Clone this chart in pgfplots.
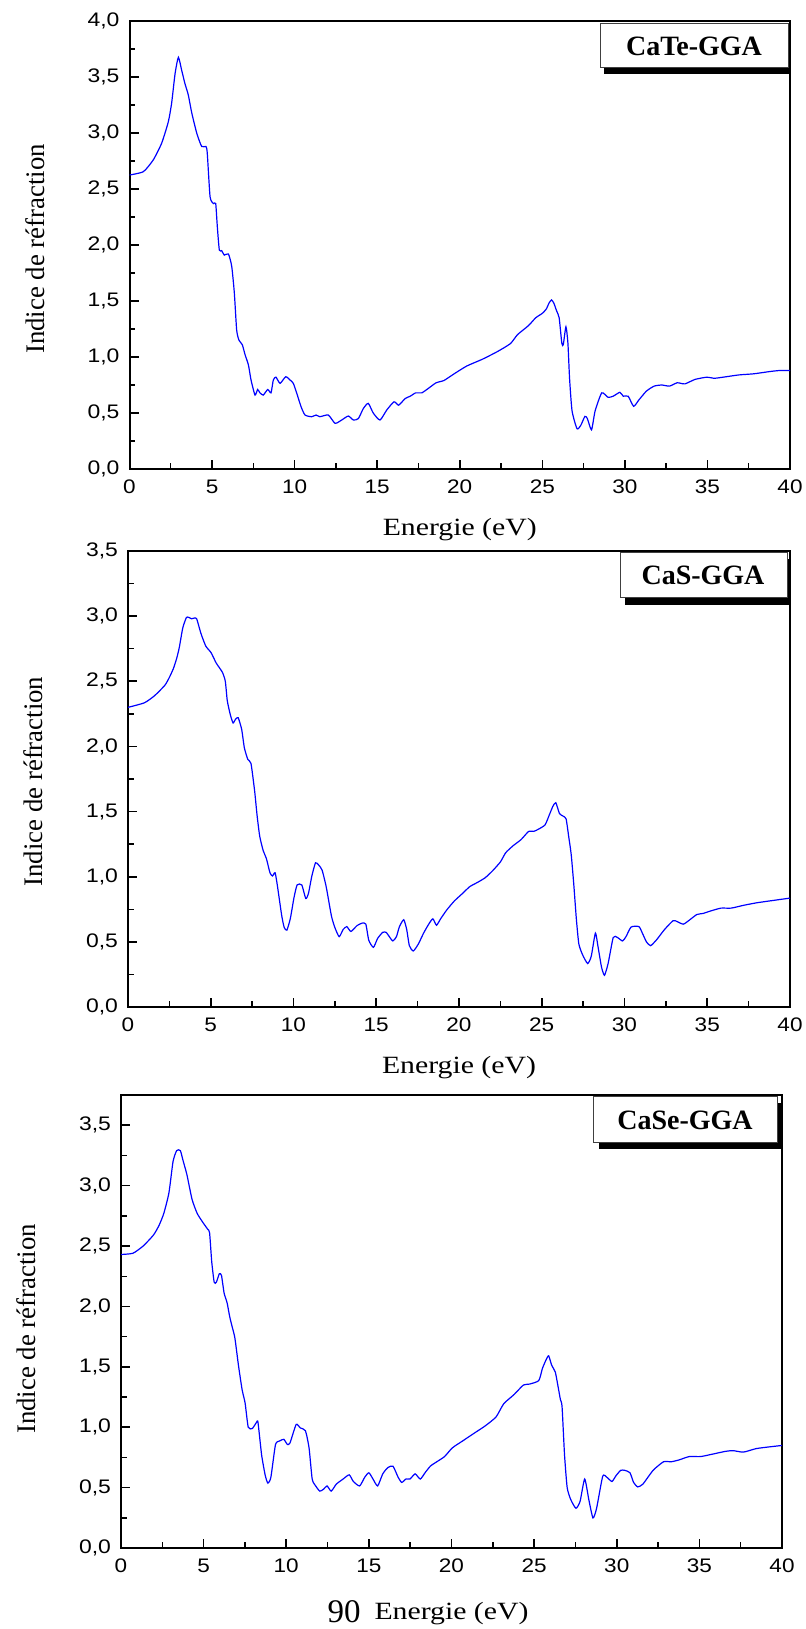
\documentclass[border=0pt]{standalone}
\usepackage{pgfplots}
\pgfplotsset{compat=1.18}
\usepackage{fontspec}
\usepackage{graphicx}
\setmainfont{Liberation Serif}
\newfontfamily\arialf{Liberation Sans}

\pgfplotsset{
  refstyle/.style={
    scale only axis,
    anchor=south west,
    xmin=0, xmax=40, ymin=0,
    xtick={0,5,...,40},
    minor x tick num=1,
    minor y tick num=1,
    tick align=inside,
    xtick pos=left, ytick pos=left,
    axis line style={line width=1pt},
    major tick style={line width=0.8pt, black},
    minor tick style={line width=0.7pt, black},
    major tick length=4.5pt,
    minor tick length=2.8pt,
    /pgf/number format/assume math mode=true,
    tick label style={font=\arialf\fontsize{9.8}{11}\selectfont},
    xticklabel={\scalebox{1.15}[1]{\pgfmathprintnumber{\tick}}},
    yticklabel={\scalebox{1.17}[1]{\pgfmathprintnumber[fixed,fixed zerofill,precision=1,use comma]{\tick}}},
    xticklabel style={yshift=-2pt},
    yticklabel style={xshift=-1.5pt},
    xlabel={\scalebox{1.2}[1]{Energie (eV)}},
    ylabel={Indice de réfraction},
    xlabel style={font=\fontsize{12.4}{14}\selectfont, at={(rel axis cs:0.5,0)}, anchor=base, yshift=-33pt},
    every axis y label/.style={font=\fontsize{13.4}{15}\selectfont, at={(rel axis cs:0,0.5)}, xshift=-42.75pt, yshift=-2pt, rotate=90, anchor=base},
  },
  cur/.style={blue, line width=0.6pt, smooth, tension=0.35, mark=none},
}

\begin{document}
\begin{tikzpicture}
\path[use as bounding box] (0pt,0pt) rectangle (403pt,-814.5pt);

% ---------------- CaTe ----------------
\begin{axis}[refstyle, at={(64.75pt,-234.5pt)}, width=330.25pt, height=224pt,
  ymax=4, ytick={0,0.5,...,4}]
\addplot[cur] coordinates {
(0,2.625)(0.84,2.655)(1.44,2.76)(1.95,2.91)(2.35,3.10)(2.55,3.265)(2.76,3.53)(2.96,3.676)
(3.16,3.56)(3.36,3.44)(3.56,3.34)(3.77,3.18)(4.07,3.0)(4.37,2.88)(4.63,2.88)(4.71,2.82)
(4.88,2.43)(5.08,2.37)(5.22,2.37)(5.32,2.16)(5.44,1.955)(5.58,1.95)(5.74,1.91)(5.99,1.92)
(6.19,1.81)(6.35,1.57)(6.49,1.24)(6.63,1.15)(6.83,1.11)(7.0,1.02)(7.2,0.93)(7.36,0.795)
(7.6,0.66)(7.76,0.71)(7.9,0.68)(8.1,0.66)(8.37,0.71)(8.57,0.68)(8.71,0.795)(8.87,0.82)
(9.12,0.765)(9.46,0.824)(9.72,0.795)(9.92,0.765)(10.13,0.676)(10.39,0.556)(10.63,0.482)
(11.03,0.467)(11.3,0.482)(11.53,0.467)(12.04,0.482)(12.45,0.408)(12.85,0.4375)(13.25,0.473)
(13.56,0.4375)(13.86,0.45)(14.16,0.54)(14.46,0.586)(14.76,0.5)(15.17,0.4375)(15.58,0.527)
(16.02,0.6)(16.3,0.57)(16.7,0.63)(17.0,0.65)
(17.33,0.68)(17.7,0.68)(18.1,0.72)(18.57,0.77)(19.04,0.79)(19.66,0.85)(20.43,0.92)
(21.37,0.98)(22.3,1.05)(23.07,1.12)(23.5,1.20)(24.16,1.28)(24.6,1.35)(25.0,1.39)
(25.25,1.43)(25.4,1.48)(25.56,1.51)(25.7,1.48)(25.87,1.41)(26.02,1.35)(26.18,1.125)
(26.27,1.11)(26.43,1.27)(26.55,1.125)(26.65,0.81)(26.8,0.52)(27.1,0.36)(27.33,0.39)
(27.58,0.47)(27.73,0.45)(27.98,0.35)(28.2,0.52)(28.6,0.68)(28.98,0.64)(29.29,0.65)
(29.7,0.685)(29.9,0.65)(30.2,0.65)(30.53,0.56)(30.84,0.615)(31.3,0.695)(31.77,0.74)
(32.24,0.75)(32.7,0.74)(33.17,0.77)(33.63,0.76)(34.25,0.80)(34.97,0.82)(35.4,0.81)
(35.96,0.82)(36.9,0.84)(37.8,0.85)(38.76,0.87)(39.4,0.88)(40,0.88)
};
\end{axis}

% ---------------- CaS ----------------
\begin{axis}[refstyle, at={(64pt,-503.5pt)}, width=331pt, height=228pt,
  ymax=3.5, ytick={0,0.5,...,3.5},
  every axis y label/.append style={xshift=0.75pt}]
\addplot[cur] coordinates {
(0,2.30)(0.99,2.335)(1.61,2.39)(2.23,2.47)(2.5,2.53)(2.75,2.60)(2.95,2.68)(3.1,2.76)(3.31,2.91)(3.53,2.99)
(3.68,2.99)(3.84,2.98)(4.0,2.985)(4.15,2.98)(4.4,2.87)(4.7,2.77)(5.02,2.72)(5.33,2.64)
(5.7,2.57)(5.88,2.50)(6.0,2.35)(6.19,2.24)(6.35,2.18)(6.5,2.21)(6.66,2.22)(6.87,2.13)
(7.03,1.99)(7.24,1.90)(7.43,1.87)(7.65,1.66)(7.8,1.47)(7.96,1.31)(8.17,1.20)(8.36,1.14)
(8.58,1.03)(8.73,1.006)(8.89,1.03)(9.04,0.92)(9.29,0.70)(9.44,0.61)(9.6,0.59)(9.81,0.68)
(10.03,0.84)(10.22,0.937)(10.5,0.937)(10.74,0.833)(10.9,0.87)(11.11,1.006)(11.33,1.107)
(11.52,1.09)(11.73,1.05)(11.98,0.92)(12.29,0.70)(12.5,0.61)(12.76,0.54)(13.0,0.595)
(13.22,0.617)(13.47,0.58)(13.84,0.625)(14.15,0.644)(14.37,0.636)(14.55,0.512)(14.83,0.458)
(15.08,0.526)(15.39,0.573)(15.6,0.573)(15.79,0.54)(16.0,0.507)(16.22,0.54)(16.4,0.617)
(16.66,0.67)(16.84,0.595)(17.0,0.471)(17.24,0.43)(17.55,0.485)(17.86,0.567)(18.17,0.636)
(18.42,0.677)(18.64,0.628)(18.89,0.677)(19.26,0.745)(19.72,0.814)(20.19,0.869)(20.65,0.924)
(21.11,0.956)(21.58,0.992)(22.04,1.047)(22.51,1.115)(22.82,1.184)(23.28,1.239)(23.75,1.285)
(24.21,1.348)(24.52,1.348)(24.83,1.367)(25.2,1.398)(25.45,1.472)(25.67,1.54)(25.85,1.568)
(26.07,1.485)(26.28,1.466)(26.47,1.444)(26.63,1.307)(26.78,1.17)(26.93,0.95)(27.09,0.677)
(27.24,0.485)(27.46,0.403)(27.77,0.334)(27.99,0.389)(28.24,0.567)(28.39,0.471)(28.61,0.307)
(28.79,0.244)(29.01,0.334)(29.32,0.534)(29.57,0.534)(29.88,0.507)(30.09,0.54)(30.4,0.614)
(30.87,0.617)(31.08,0.567)(31.33,0.499)(31.58,0.471)(31.95,0.518)(32.42,0.595)(32.94,0.663)
(33.19,0.655)(33.56,0.636)(33.96,0.671)(34.37,0.71)(34.74,0.718)(35.2,0.737)(35.83,0.759)
(36.44,0.759)(37.21,0.781)(37.99,0.80)(38.76,0.814)(40,0.836)
};
\end{axis}

% ---------------- CaSe ----------------
\begin{axis}[refstyle, at={(60.5pt,-774pt)}, width=330.5pt, height=226.5pt,
  ymax=3.75, ytick={0,0.5,...,3.5},
  every axis y label/.append style={xshift=-1.75pt},
  xlabel style={yshift=-2.5pt}]
\addplot[cur] coordinates {
(0,2.43)(0.72,2.44)(1.34,2.5)(1.96,2.59)(2.3,2.67)(2.59,2.77)(2.9,2.94)(3.15,3.2)(3.37,3.29)
(3.59,3.29)(3.77,3.2)(3.99,3.09)(4.3,2.886)(4.61,2.77)(4.93,2.70)(5.24,2.64)(5.36,2.61)
(5.49,2.37)(5.64,2.2)(5.77,2.2)(5.95,2.27)(6.08,2.257)(6.24,2.11)(6.42,2.03)(6.58,1.914)
(6.73,1.83)(6.89,1.74)(7.11,1.51)(7.33,1.31)(7.51,1.2)(7.7,1.0)(7.95,0.99)(8.2,1.04)
(8.29,1.04)(8.51,0.77)(8.73,0.6)(8.89,0.537)(9.07,0.586)(9.35,0.857)(9.6,0.886)(9.85,0.9)
(10.07,0.857)(10.23,0.871)(10.6,1.023)(10.85,0.994)(11.16,0.971)(11.38,0.829)(11.57,0.571)
(11.78,0.514)(12.03,0.471)(12.25,0.486)(12.47,0.514)(12.72,0.471)(13.03,0.529)(13.44,0.571)
(13.81,0.606)(14.06,0.551)(14.44,0.514)(14.75,0.586)(15.0,0.623)(15.25,0.571)(15.53,0.514)
(15.84,0.614)(16.15,0.666)(16.46,0.677)(16.77,0.586)(16.99,0.543)(17.24,0.571)(17.49,0.571)
(17.8,0.614)(18.11,0.571)(18.43,0.629)(18.74,0.68)(19.11,0.714)(19.58,0.757)(20.05,0.829)
(20.67,0.886)(21.29,0.943)(22.07,1.014)(22.7,1.086)(23.16,1.194)(23.79,1.271)(24.35,1.349)
(24.72,1.357)(25.28,1.386)(25.5,1.486)(25.72,1.557)(25.88,1.591)(26.06,1.514)(26.28,1.457)
(26.44,1.343)(26.59,1.229)(26.69,1.171)(26.84,0.771)(27.0,0.5)(27.22,0.4)(27.53,0.329)
(27.78,0.386)(28.06,0.571)(28.31,0.4)(28.56,0.249)(28.78,0.329)(29.15,0.594)(29.4,0.586)
(29.71,0.551)(29.96,0.6)(30.24,0.643)(30.49,0.643)(30.8,0.623)(31.02,0.543)(31.27,0.506)
(31.58,0.529)(32.2,0.643)(32.83,0.714)(33.3,0.714)(33.76,0.729)(34.39,0.757)(35.07,0.757)
(35.79,0.777)(36.57,0.8)(37.04,0.806)(37.66,0.794)(38.44,0.823)(39.22,0.837)(40,0.849)
};
\end{axis}

% ---------------- boxes and page number ----------------
\begin{scope}[x=0.5pt,y=-0.5pt]
\fill[black] (604,30) rectangle (791,74);
\filldraw[fill=white, draw=black!75, line width=0.5pt] (600,23) rectangle (788,67);
\node[font=\bfseries\fontsize{14}{16}\selectfont] at (694,46) {CaTe-GGA};

\fill[black] (625,559) rectangle (791,605);
\filldraw[fill=white, draw=black!75, line width=0.5pt] (620,552) rectangle (787,597);
\node[font=\bfseries\fontsize{14}{16}\selectfont] at (703,575) {CaS-GGA};

\fill[black] (599,1103) rectangle (782,1149);
\filldraw[fill=white, draw=black!75, line width=0.5pt] (593,1096) rectangle (777,1142);
\node[font=\bfseries\fontsize{14}{16}\selectfont] at (685,1120) {CaSe-GGA};

\node[font=\fontsize{16.5}{18}\selectfont, anchor=base] at (344,1622) {90};
\end{scope}
\end{tikzpicture}
\end{document}
